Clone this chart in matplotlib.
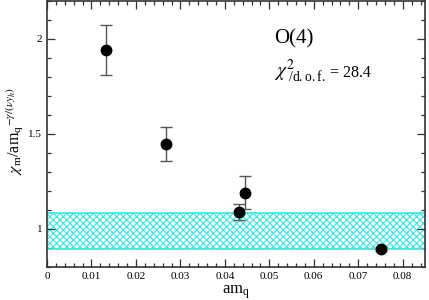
import matplotlib
matplotlib.use("Agg")
import matplotlib.pyplot as plt
from matplotlib.ticker import MultipleLocator, FuncFormatter

am_q = [0.0133, 0.0268, 0.0431, 0.0445, 0.0750]
ratio = [1.944, 1.448, 1.089, 1.190, 0.895]
err = [0.131, 0.088, 0.041, 0.087, 0.012]
band_low, band_high = 0.895, 1.084
x_range = [0.0, 0.085]

plt.rcParams['font.family'] = ['Liberation Serif', 'DejaVu Serif']
plt.rcParams['mathtext.fontset'] = 'stix'
plt.rcParams['hatch.linewidth'] = 0.8

fig = plt.figure(figsize=(4.29, 3.0), dpi=100)
ax = fig.add_axes([0.1096, 0.11, 0.881, 0.8867])

ax.fill_between(x_range, band_low, band_high, facecolor='white',
                edgecolor='#33e6e6', hatch='xxxxx', linewidth=0)
ax.plot(x_range, [band_low, band_low], color='#33e6e6', lw=1.2)
ax.plot(x_range, [band_high, band_high], color='#33e6e6', lw=1.2)

ax.errorbar(am_q, ratio, yerr=err, fmt='o', color='black', ms=7.5,
            ecolor='#555555', elinewidth=1.0, capsize=4, capthick=1.0, zorder=5)

ax.set_xlim(0, 0.085)
ax.set_ylim(0.8, 2.2)
ax.xaxis.set_major_locator(MultipleLocator(0.01))
ax.xaxis.set_minor_locator(MultipleLocator(0.002))
ax.yaxis.set_major_locator(MultipleLocator(0.5))
ax.yaxis.set_minor_locator(MultipleLocator(0.1))
ax.xaxis.set_major_formatter(FuncFormatter(lambda v, p: '%g' % round(v, 3)))
ax.yaxis.set_major_formatter(FuncFormatter(lambda v, p: '%g' % round(v, 3)))
ax.tick_params(which='both', direction='in', top=True, right=True, labelsize=8, color='#333333')
ax.tick_params(which='major', length=6, width=0.9)
ax.tick_params(which='minor', length=3, width=0.9)
for s in ax.spines.values():
    s.set_linewidth(1.2)
    s.set_color('#333333')

ax.set_xlabel(r'am$_\mathregular{q}$', fontsize=12, labelpad=2)
ax.set_ylabel(r'$\chi_\mathregular{m}$/am$_\mathregular{q}$$^{-\gamma/(\nu y_h)}$', fontsize=11.5)
ax.yaxis.set_label_coords(-0.058, 0.51)

ax.text(0.051, 1.977, 'O(4)', fontsize=15)
ax.text(0.051, 1.80, r'$\chi^{2}_{\ \mathregular{/d.o.f.}}$', fontsize=14)
ax.text(0.0637, 1.80, '= 28.4', fontsize=11.5)

fig.savefig('out.png', dpi=100)
